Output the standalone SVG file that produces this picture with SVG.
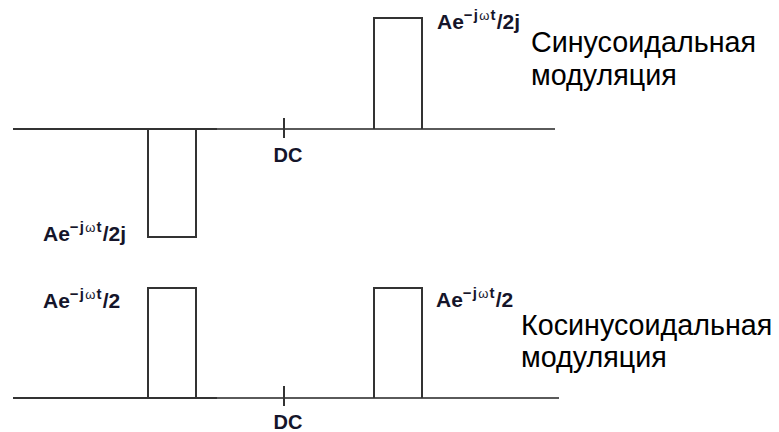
<svg xmlns="http://www.w3.org/2000/svg" width="779" height="432" viewBox="0 0 779 432">
<style>
.ax1{stroke:#333;stroke-width:2;fill:none}
.ax2{stroke:#5a5a5a;stroke-width:2;fill:none}
.box{stroke:#333;stroke-width:2;fill:none}
.lbl{font-family:"Liberation Sans",Arial,sans-serif;font-weight:bold;font-size:21px;fill:#15152a}
.sup{font-size:15px;letter-spacing:1.2px}
.om{font-weight:normal;font-size:13px}
.dc{font-family:"Liberation Sans",Arial,sans-serif;font-weight:bold;font-size:20px;fill:#15152a;text-anchor:middle}
.cap{font-family:"Liberation Sans",Arial,sans-serif;font-size:28.7px;fill:#000}
</style>
<rect width="779" height="432" fill="#fff"/>
<g id="connectors">
<line class="ax1" x1="13" y1="129" x2="217" y2="129"/>
<line class="ax2" x1="217" y1="129" x2="555" y2="129"/>
<line class="ax1" x1="284" y1="118" x2="284" y2="138"/>
<line class="ax1" x1="13" y1="398" x2="217" y2="398"/>
<line class="ax2" x1="217" y1="398" x2="559" y2="398"/>
<line class="ax1" x1="284" y1="386" x2="284" y2="406"/>
</g>
<g id="dc-top"><text class="dc" x="288" y="162">DC</text></g>
<g id="dc-bottom"><text class="dc" x="288" y="429">DC</text></g>
<g id="sin-neg">
<polyline class="box" points="148,129 148,237 196,237 196,129"/>
<text class="lbl" x="43" y="241">Ae<tspan class="sup" dy="-9">−j<tspan class="om">ω</tspan>t</tspan><tspan dy="9">/2j</tspan></text>
</g>
<g id="sin-pos">
<polyline class="box" points="374,129 374,18 422,18 422,129"/>
<text class="lbl" x="437" y="29">Ae<tspan class="sup" dy="-9">−j<tspan class="om">ω</tspan>t</tspan><tspan dy="9">/2j</tspan></text>
</g>
<g id="sin-caption">
<text class="cap" x="531" y="52">Синусоидальная</text>
<text class="cap" x="531" y="85">модуляция</text>
</g>
<g id="cos-neg">
<polyline class="box" points="148,398 148,288 196,288 196,398"/>
<text class="lbl" x="43" y="308">Ae<tspan class="sup" dy="-9">−j<tspan class="om">ω</tspan>t</tspan><tspan dy="9">/2</tspan></text>
</g>
<g id="cos-pos">
<polyline class="box" points="374,398 374,288 422,288 422,398"/>
<text class="lbl" x="436" y="307">Ae<tspan class="sup" dy="-9">−j<tspan class="om">ω</tspan>t</tspan><tspan dy="9">/2</tspan></text>
</g>
<g id="cos-caption">
<text class="cap" x="521" y="335">Косинусоидальная</text>
<text class="cap" x="521" y="367">модуляция</text>
</g>
</svg>
